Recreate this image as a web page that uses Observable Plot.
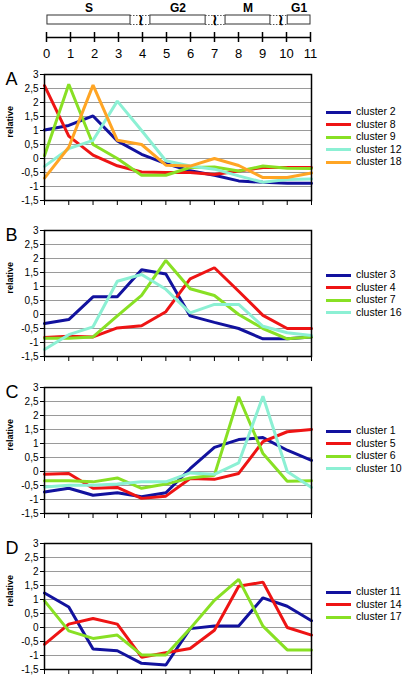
<!DOCTYPE html>
<html><head><meta charset="utf-8">
<script src="https://cdn.jsdelivr.net/npm/d3@7"></script>
<script src="https://cdn.jsdelivr.net/npm/@observablehq/plot@0.6"></script>
<style>
body{margin:0;background:#fff;font-family:"Liberation Sans",Arial,sans-serif;}
#root{position:relative;width:403px;height:681px;overflow:hidden;background:#fff;}
.abs{position:absolute;left:0;}
.leg{position:absolute;left:326px;font-size:10.5px;color:#000;}
.leg div{position:absolute;left:0;height:12px;white-space:nowrap;}
.leg span.sw{position:absolute;left:0;top:4.5px;width:25px;height:3px;}
.leg span.tx{position:absolute;left:30px;top:-1px;line-height:12px;}
</style></head>
<body><div id="root"></div>
<script>
const times = d3.range(12);
const yTicks = [-1.5,-1,-0.5,0,0.5,1,1.5,2,2.5,3];

const phases = [
  {name:"S", x1:0.04, x2:3.5},
  {name:"G2", x1:4.33, x2:6.63},
  {name:"M", x1:7.46, x2:9.33},
  {name:"G1", x1:10.05, x2:11}
];
const gaps = [{x1:3.5,x2:4.33,brk:3.92},{x1:6.63,x2:7.46,brk:7.04},{x1:9.33,x2:10.05,brk:9.75}];

const clustersA = ["cluster 2","cluster 8","cluster 9","cluster 12","cluster 18"];
const colorsA = ["#12129e","#ee1414","#88e024","#8cf0d4","#ffa524"];
const valuesA = [
  [1.02,1.18,1.52,0.63,0.15,-0.18,-0.44,-0.6,-0.8,-0.85,-0.88,-0.88],
  [2.6,0.8,0.12,-0.26,-0.48,-0.5,-0.5,-0.57,-0.45,-0.32,-0.32,-0.32],
  [0.1,2.65,0.5,0,-0.6,-0.6,-0.32,-0.3,-0.45,-0.27,-0.35,-0.36],
  [-0.28,0.35,0.65,2.05,1.0,-0.08,-0.27,-0.38,-0.62,-0.85,-0.75,-0.73],
  [-0.7,0.4,2.62,0.65,0.5,-0.24,-0.27,0,-0.25,-0.68,-0.68,-0.52]
];

const clustersB = ["cluster 3","cluster 4","cluster 7","cluster 16"];
const colorsB = ["#12129e","#ee1414","#88e024","#8cf0d4"];
const valuesB = [
  [-0.32,-0.18,0.63,0.63,1.6,1.45,-0.05,-0.28,-0.5,-0.87,-0.87,-0.8],
  [-0.82,-0.78,-0.8,-0.48,-0.4,0.1,1.27,1.67,0.83,-0.03,-0.5,-0.5],
  [-0.85,-0.85,-0.8,-0.05,0.68,1.93,0.92,0.68,0,-0.5,-0.87,-0.8],
  [-1.25,-0.72,-0.44,1.19,1.43,0.9,0.06,0.36,0.36,-0.42,-0.65,-0.75]
];

const clustersC = ["cluster 1","cluster 5","cluster 6","cluster 10"];
const colorsC = ["#12129e","#ee1414","#88e024","#8cf0d4"];
const valuesC = [
  [-0.73,-0.6,-0.85,-0.76,-0.9,-0.76,0.1,0.86,1.14,1.21,0.76,0.4],
  [-0.1,-0.07,-0.6,-0.57,-0.96,-0.88,-0.25,-0.28,-0.07,1.07,1.42,1.5],
  [-0.33,-0.33,-0.37,-0.23,-0.6,-0.45,-0.23,-0.13,2.67,0.64,-0.35,-0.33],
  [-0.55,-0.49,-0.49,-0.45,-0.37,-0.37,-0.05,-0.1,0.31,2.69,0,-0.57]
];

const clustersD = ["cluster 11","cluster 14","cluster 17"];
const colorsD = ["#12129e","#ee1414","#88e024"];
const valuesD = [
  [1.23,0.73,-0.77,-0.83,-1.28,-1.34,-0.04,0.05,0.05,1.06,0.76,0.24],
  [-0.6,0.12,0.32,0.12,-1.06,-0.9,-0.75,-0.1,1.47,1.62,0,-0.27],
  [0.95,-0.12,-0.39,-0.27,-0.98,-0.98,-0.04,0.97,1.72,0.05,-0.8,-0.8]
];

const root = document.getElementById("root");
const FONT = "Liberation Sans, Arial, sans-serif";

// Top cell-cycle bar
const topBar = Plot.plot({
  width: 403, height: 64,
  marginLeft: 46, marginRight: 93, marginTop: 0, marginBottom: 0,
  x: {domain: [0, 11], axis: null},
  y: {domain: [0, 64], range: [0, 64], axis: null},
  style: {fontFamily: FONT, background: "transparent", color: "#000"},
  marks: [
    Plot.ruleY(gaps, {x1: "x1", x2: "x2", y: 15, stroke: "#555", strokeDasharray: "1.5,1.5"}),
    Plot.ruleY(gaps, {x1: "x1", x2: "x2", y: 24, stroke: "#555", strokeDasharray: "1.5,1.5"}),
    Plot.rect(phases, {x1: "x1", x2: "x2", y1: 15, y2: 24, fill: "white", stroke: "#333", strokeWidth: 1}),
    Plot.text(gaps, {x: "brk", y: 20, text: () => "≀", fontSize: 15, fontWeight: "bold"}),
    Plot.text(phases, {x: d => (d.x1 + d.x2) / 2, y: 8, text: "name", fontSize: 12, fontWeight: "bold"}),
    Plot.ruleY([37], {x1: 0, x2: 11, stroke: "#000", strokeWidth: 1.5}),
    Plot.ruleX(times, {x: d => d, y1: 32, y2: 42, stroke: "#000", strokeWidth: 1.5}),
    Plot.text(times, {x: d => d, y: 53, text: d => String(d), fontSize: 13})
  ]
});
topBar.classList.add("abs");
topBar.style.top = "0px";
root.appendChild(topBar);

function panel(letter, names, values, colors, top, legendTop) {
  const rows = names.flatMap((name, i) => times.map((t, j) => ({cluster: name, t, v: values[i][j]})));
  const chart = Plot.plot({
    width: 320, height: 126 + 10 + 8,
    marginTop: 10, marginBottom: 8, marginLeft: 44, marginRight: 9,
    x: {domain: [0, 11]},
    y: {domain: [-1.5, 3]},
    color: {domain: names, range: colors},
    style: {fontFamily: FONT, fontSize: "10px", background: "transparent", color: "#000"},
    marks: [
      Plot.gridY(yTicks, {stroke: "#9a9a9a", strokeOpacity: 1}),
      Plot.axisY(yTicks, {tickSize: 4, tickPadding: 2, tickFormat: d => String(d).replace(".", ","), label: null, fontSize: 10}),
      Plot.axisX(times, {tickSize: 5, tickFormat: () => "", label: null}),
      Plot.line(rows, {x: "t", y: "v", z: "cluster", stroke: "cluster", strokeWidth: 3, strokeLinejoin: "miter"}),
      Plot.frame({stroke: "#000", strokeWidth: 1.5}),
      Plot.text([letter], {frameAnchor: "top-left", dx: -39, dy: 5, textAnchor: "start", lineAnchor: "middle", fontSize: 18}),
      Plot.text(["relative"], {frameAnchor: "left", dx: -34, rotate: -90, fontSize: 9, fontWeight: "bold"})
    ]
  });
  chart.classList.add("abs");
  chart.style.top = (top - 10) + "px";
  root.appendChild(chart);

  const leg = document.createElement("div");
  leg.className = "leg";
  leg.style.top = (legendTop - 6) + "px";
  names.forEach((name, i) => {
    const row = document.createElement("div");
    row.style.top = (i * 12.5) + "px";
    row.innerHTML = `<span class="sw" style="background:${colors[i]}"></span><span class="tx">${name}</span>`;
    leg.appendChild(row);
  });
  root.appendChild(leg);
}

panel("A", clustersA, valuesA, colorsA, 74, 112);
panel("B", clustersB, valuesB, colorsB, 230, 275);
panel("C", clustersC, valuesC, colorsC, 387, 431);
panel("D", clustersD, valuesD, colorsD, 543, 592);
</script>
</body></html>
